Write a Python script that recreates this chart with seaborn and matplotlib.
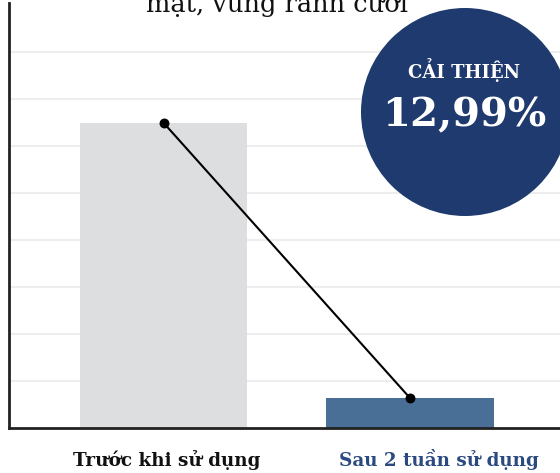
import matplotlib
matplotlib.use('Agg')
import matplotlib.pyplot as plt
import matplotlib.transforms as mtransforms
from matplotlib.patches import Circle
import seaborn as sns
import pandas as pd

# Data (units = gridline steps)
categories = ['Trước khi sử dụng', 'Sau 2 tuần sử dụng']
values = [6.5, 0.64]
bar_colors = ['#dcdedf', '#4a6f96']
label_colors = ['#111111', '#2b4a80']
title_text = 'mặt, vùng rãnh cười'
badge_title = 'CẢI THIỆN'
badge_value = '12,99%'

df = pd.DataFrame({'Giai đoạn': categories, 'Giá trị': values})

sns.set_style('white')
plt.rcParams['font.family'] = ['DejaVu Serif']

fig = plt.figure(figsize=(5.6, 4.73), dpi=100)
ax = fig.add_axes([9 / 560, 45 / 473, 1 - 9 / 560, 425 / 473])

sns.barplot(data=df, x='Giai đoạn', y='Giá trị', hue='Giai đoạn',
            palette=dict(zip(categories, bar_colors)), legend=False,
            width=0.68, saturation=1, linewidth=0, ax=ax, zorder=2)
sns.pointplot(data=df, x='Giai đoạn', y='Giá trị', color='black',
              markersize=6, linewidth=1.5, ax=ax)
for coll in ax.collections:
    coll.set_zorder(4)
for line in ax.lines:
    line.set_zorder(4)

ax.set_xlim(-0.627, 1.609)
ax.set_ylim(0, 9.05)
ax.set_yticks(range(1, 9))
ax.yaxis.grid(True, color='#ededed', linewidth=1.5, zorder=0)
ax.set_axisbelow(True)
ax.tick_params(axis='y', left=False, labelleft=False)
ax.tick_params(axis='x', bottom=False, labelbottom=False)
ax.set_xlabel('')
ax.set_ylabel('')

for side in ['top', 'right']:
    ax.spines[side].set_visible(False)
for side in ['left', 'bottom']:
    ax.spines[side].set_color('#222222')
    ax.spines[side].set_linewidth(2)

# category labels under the bars
trans = mtransforms.blended_transform_factory(ax.transData, fig.transFigure)
offsets = [0.03, 0.29]
for i, (name, col, dx) in enumerate(zip(categories, label_colors, offsets)):
    ax.text(i, 7 / 473, name, ha='center', va='baseline', fontsize=13.2,
            fontweight='bold', color=col,
            transform=trans + mtransforms.ScaledTranslation(dx, 0, fig.dpi_scale_trans))

# cropped title line at the very top
fig.text(2.77 / 5.6, 1 - 12 / 473, title_text, ha='center', va='baseline',
         fontsize=18.5, color='#111111')

# badge
badge = Circle((4.65, 3.61), 1.04, transform=fig.dpi_scale_trans,
               facecolor='#1f3a6e', edgecolor='none', zorder=5)
fig.add_artist(badge)
fig.text(4.64 / 5.6, 4.03 / 4.73, badge_title, ha='center', va='center',
         fontsize=13, fontweight='bold', color='white', zorder=6)
fig.text(4.64 / 5.6, 3.58 / 4.73, badge_value, ha='center', va='center',
         fontsize=29, fontweight='bold', color='white', zorder=6)

fig.savefig('out.png', dpi=100)
